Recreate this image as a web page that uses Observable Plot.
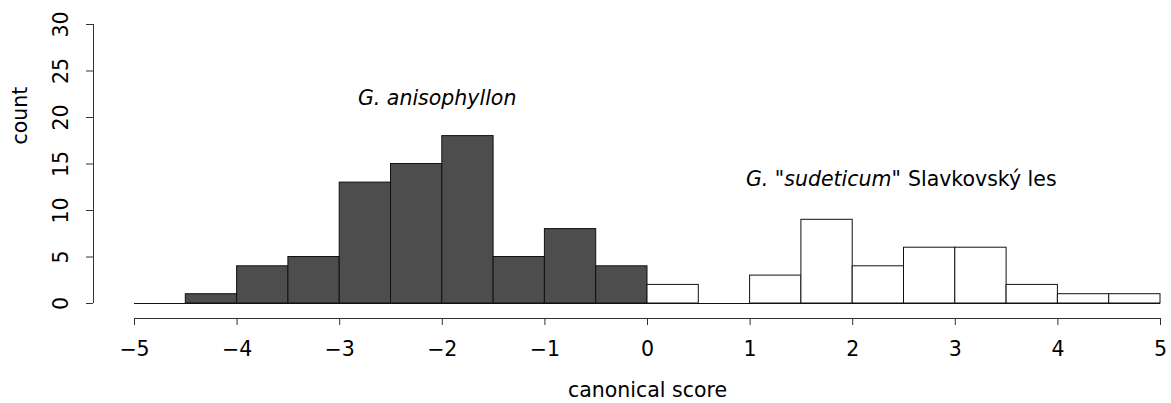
<!DOCTYPE html>
<html>
<head>
<meta charset="utf-8">
<script src="https://cdn.jsdelivr.net/npm/d3@7"></script>
<script src="https://cdn.jsdelivr.net/npm/@observablehq/plot@0.6"></script>
<style>
  html, body { margin: 0; padding: 0; background: #fff; }
</style>
</head>
<body>
<div id="chart"></div>
<script>
// Histogram of canonical scores, bins of width 0.5
const binEdges = [-5, -4.5, -4, -3.5, -3, -2.5, -2, -1.5, -1, -0.5, 0, 0.5, 1, 1.5, 2, 2.5, 3, 3.5, 4, 4.5, 5];
const counts   = [0, 1, 4, 5, 13, 15, 18, 5, 8, 4, 2, 0, 3, 9, 4, 6, 6, 2, 1, 1];
const groups   = ["anisophyllon", "anisophyllon", "anisophyllon", "anisophyllon", "anisophyllon",
                  "anisophyllon", "anisophyllon", "anisophyllon", "anisophyllon", "anisophyllon",
                  "sudeticum", "sudeticum", "sudeticum", "sudeticum", "sudeticum",
                  "sudeticum", "sudeticum", "sudeticum", "sudeticum", "sudeticum"];
const xTicks = [-5, -4, -3, -2, -1, 0, 1, 2, 3, 4, 5];
const yTicks = [0, 5, 10, 15, 20, 25, 30];

// Group labels placed in data coordinates
const labelAniso = {x: -2.05, y: 22.1, text: "G. anisophyllon"};
const labelSudet = {x: 2.47, y: 13.3, italic: "G. \"sudeticum\"", plain: "Slavkovský les"};

const bins = counts.map((c, i) => ({x1: binEdges[i], x2: binEdges[i + 1], count: c, group: groups[i]}));

const font = "DejaVu Sans, Verdana, sans-serif";
const fs = 20.5;
const minus = d => (d < 0 ? "\u2212" + (-d) : String(d));

const chart = Plot.plot({
  width: 1171,
  height: 403,
  marginLeft: 134,
  marginRight: 11,
  marginTop: 24,
  marginBottom: 100,
  style: {fontFamily: font, fontSize: fs + "px", background: "#fff", color: "#000"},
  x: {domain: [-5, 5], axis: null},
  y: {domain: [0, 30], axis: null},
  color: {domain: ["anisophyllon", "sudeticum"], range: ["#4d4d4d", "#ffffff"]},
  marks: [
    // bars
    Plot.rectY(bins, {x1: "x1", x2: "x2", y: "count", fill: "group", stroke: "#111", strokeWidth: 1}),
    // baseline under the bins (zero-count bins show as lines)
    Plot.ruleY([0], {x1: -5, x2: 5, stroke: "#111"}),

    // y axis, offset to the left of the plot region
    Plot.ruleX([-5], {y1: 0, y2: 30, dx: -41, stroke: "#333"}),
    Plot.ruleY(yTicks, {y: d => d, x1: -5, x2: -5, dx: -41, insetLeft: -7, stroke: "#333"}),
    Plot.text(yTicks, {y: d => d, x: -5, dx: -73, rotate: -90, text: d => String(d),
      fontSize: fs, fontFamily: font, fill: "#000"}),
    Plot.text(["count"], {x: -5, y: 20.2, dx: -114, rotate: -90, text: d => d,
      fontSize: fs, fontFamily: font, fill: "#000"}),

    // x axis, offset below the plot region
    Plot.ruleY([0], {x1: -5, x2: 5, dy: 15, stroke: "#333"}),
    Plot.ruleX(xTicks, {x: d => d, y1: 0, y2: 0, dy: 15, insetBottom: -7, stroke: "#333"}),
    Plot.text(xTicks, {x: d => d, y: 0, dy: 46, text: minus, fontSize: fs, fontFamily: font, fill: "#000"}),
    Plot.text(["canonical score"], {x: 0, y: 0, dy: 87, text: d => d, fontSize: fs, fontFamily: font, fill: "#000"}),

    // group labels
    Plot.text([labelAniso], {x: "x", y: "y", text: "text", fontStyle: "italic",
      fontSize: fs, fontFamily: font, fill: "#000"}),
    Plot.text([labelSudet], {x: "x", y: "y", text: "italic", textAnchor: "end", fontStyle: "italic",
      fontSize: fs, fontFamily: font, fill: "#000"}),
    Plot.text([labelSudet], {x: "x", y: "y", dx: 7, text: "plain", textAnchor: "start",
      fontSize: fs, fontFamily: font, fill: "#000"})
  ]
});

document.getElementById("chart").appendChild(chart);
</script>
</body>
</html>
